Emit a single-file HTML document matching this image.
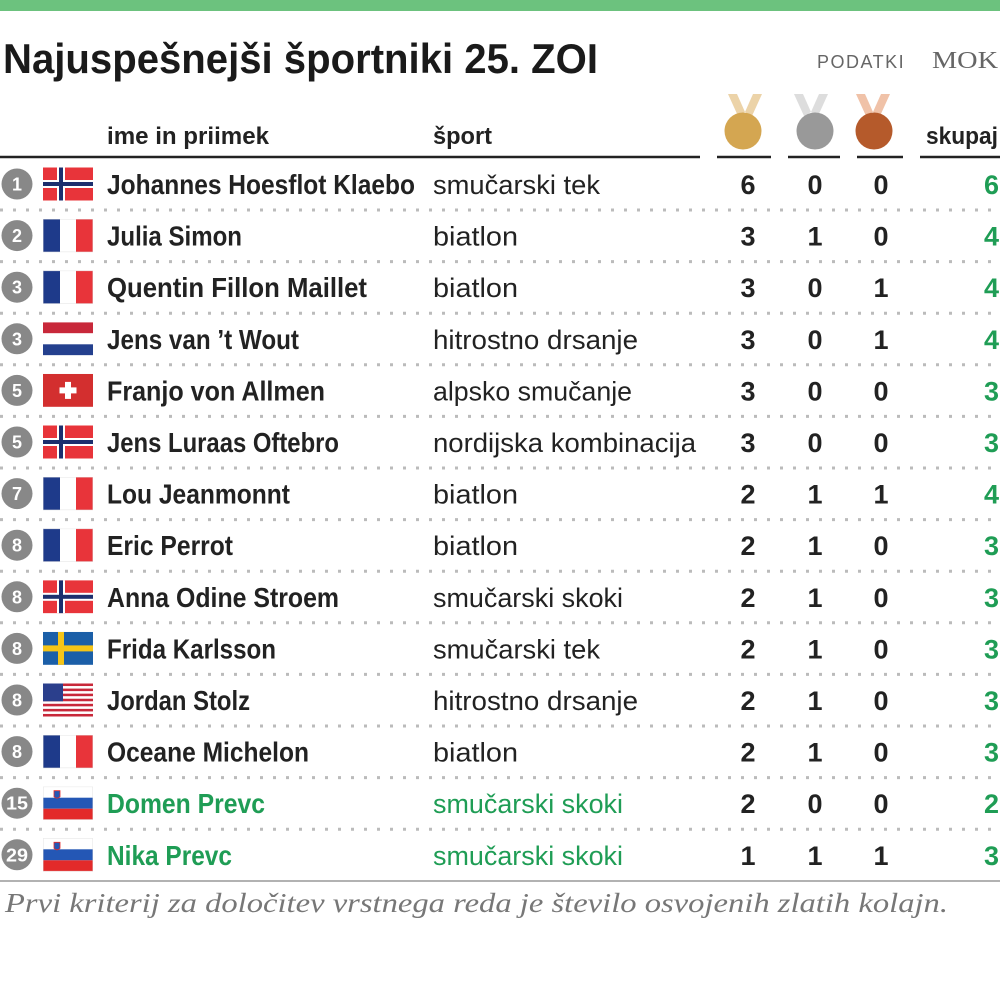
<!DOCTYPE html>
<html><head><meta charset="utf-8"><style>
html,body{margin:0;padding:0;background:#fff;}
svg{display:block}
.n{font-family:"Liberation Sans",sans-serif;font-weight:bold;font-size:28px;fill:#222}
.s{font-family:"Liberation Sans",sans-serif;font-size:27px;fill:#222}
.g{fill:#1f9d55}
.num{font-family:"Liberation Sans",sans-serif;font-weight:bold;font-size:27px;fill:#222;text-anchor:middle}
.tot{font-family:"Liberation Sans",sans-serif;font-weight:bold;font-size:27px;fill:#1f9d55;text-anchor:end}
.rk{font-family:"Liberation Sans",sans-serif;font-weight:bold;font-size:18px;fill:#fff;text-anchor:middle}
.h{font-family:"Liberation Sans",sans-serif;font-weight:bold;font-size:24px;fill:#222}
</style></head><body>
<svg width="1000" height="983" viewBox="0 0 1000 983" xmlns="http://www.w3.org/2000/svg">
<defs>
<symbol id="no" viewBox="0 0 50 33"><rect width="50" height="33" fill="#e8343a"/><rect x="14" width="8" height="33" fill="#fff"/><rect y="12.5" width="50" height="8" fill="#fff"/><rect x="16" width="4" height="33" fill="#1d2f6e"/><rect y="14.5" width="50" height="4" fill="#1d2f6e"/></symbol>
<symbol id="fr" viewBox="0 0 50 33"><rect width="17" height="33" fill="#1e3a8a"/><rect x="17" width="16" height="33" fill="#fff"/><rect x="33" width="17" height="33" fill="#e8343a"/><rect width="50" height="33" fill="none" stroke="#ddd" stroke-width="0.8"/></symbol>
<symbol id="nl" viewBox="0 0 50 33"><rect width="50" height="11" fill="#c8283a"/><rect y="11" width="50" height="11" fill="#fff"/><rect y="22" width="50" height="11" fill="#24408e"/></symbol>
<symbol id="ch" viewBox="0 0 50 33"><rect width="50" height="33" fill="#d32f2f"/><rect x="22" y="8" width="6" height="17" fill="#fff"/><rect x="16.5" y="13.5" width="17" height="6" fill="#fff"/></symbol>
<symbol id="se" viewBox="0 0 50 33"><rect width="50" height="33" fill="#1b5fa8"/><rect x="15" width="6" height="33" fill="#f5c518"/><rect y="13.5" width="50" height="6" fill="#f5c518"/></symbol>
<symbol id="us" viewBox="0 0 50 33"><rect width="50" height="33" fill="#fff"/><g fill="#c8283a"><rect y="0" width="50" height="2.54"/><rect y="5.08" width="50" height="2.54"/><rect y="10.15" width="50" height="2.54"/><rect y="15.23" width="50" height="2.54"/><rect y="20.3" width="50" height="2.54"/><rect y="25.38" width="50" height="2.54"/><rect y="30.46" width="50" height="2.54"/></g><rect width="20" height="17.8" fill="#2b3f8c"/></symbol>
<symbol id="si" viewBox="0 0 50 33"><rect width="50" height="11" fill="#fff"/><rect y="11" width="50" height="11" fill="#2457b5"/><rect y="22" width="50" height="11" fill="#e32a2a"/><path d="M11 4h6v6q-3 3-6 0z" fill="#2457b5" stroke="#e32a2a" stroke-width="0.8"/><rect width="50" height="33" fill="none" stroke="#ddd" stroke-width="0.8"/></symbol>
</defs>
<rect x="0" y="0" width="1000" height="11" fill="#6cc27e"/>
<text x="3" y="73" font-family="Liberation Sans, sans-serif" font-weight="bold" font-size="42" fill="#1a1a1a" textLength="595" lengthAdjust="spacingAndGlyphs">Najuspešnejši športniki 25. ZOI</text>
<text x="817" y="68" font-family="Liberation Sans, sans-serif" font-size="18" fill="#666" letter-spacing="1.5">PODATKI</text>
<text x="932" y="68" font-family="Liberation Serif, serif" font-size="24" fill="#666" textLength="66" lengthAdjust="spacingAndGlyphs">MOK</text>
<text x="107" y="144" class="h" textLength="162" lengthAdjust="spacingAndGlyphs">ime in priimek</text>
<text x="433" y="144" class="h" textLength="59" lengthAdjust="spacingAndGlyphs">šport</text>
<text x="926" y="144" class="h" textLength="72" lengthAdjust="spacingAndGlyphs">skupaj</text>
<!-- medals -->
<g><path d="M728 94h9l8 18-7 4z" fill="#ecd3a8"/><path d="M762 94h-9l-8 18 7 4z" fill="#ecd3a8"/><circle cx="743" cy="131" r="18.5" fill="#d4a651"/></g>
<g><path d="M794 94h9l8 18-7 4z" fill="#ddd"/><path d="M828 94h-9l-8 18 7 4z" fill="#ddd"/><circle cx="815" cy="131" r="18.5" fill="#999"/></g>
<g><path d="M856 94h9l8 18-7 4z" fill="#f0c2a8"/><path d="M890 94h-9l-8 18 7 4z" fill="#f0c2a8"/><circle cx="874" cy="131" r="18.5" fill="#b55a2b"/></g>
<g stroke="#222" stroke-width="2.5"><line x1="0" y1="157" x2="700" y2="157"/><line x1="717" y1="157" x2="771" y2="157"/><line x1="788" y1="157" x2="840" y2="157"/><line x1="857" y1="157" x2="903" y2="157"/><line x1="920" y1="157" x2="1000" y2="157"/></g>
<!-- separators -->
<g stroke="#bbb" stroke-width="3" stroke-dasharray="3 10">
<line x1="0" y1="210" x2="1000" y2="210"/><line x1="0" y1="261.6" x2="1000" y2="261.6"/><line x1="0" y1="313.2" x2="1000" y2="313.2"/><line x1="0" y1="364.8" x2="1000" y2="364.8"/><line x1="0" y1="416.4" x2="1000" y2="416.4"/><line x1="0" y1="468" x2="1000" y2="468"/><line x1="0" y1="519.6" x2="1000" y2="519.6"/><line x1="0" y1="571.2" x2="1000" y2="571.2"/><line x1="0" y1="622.8" x2="1000" y2="622.8"/><line x1="0" y1="674.4" x2="1000" y2="674.4"/><line x1="0" y1="726" x2="1000" y2="726"/><line x1="0" y1="777.6" x2="1000" y2="777.6"/><line x1="0" y1="829.2" x2="1000" y2="829.2"/>
</g>
<line x1="0" y1="881" x2="1000" y2="881" stroke="#999" stroke-width="1.5"/>
<!-- rank circles -->
<g fill="#888">
<circle cx="17" cy="184" r="15.5"/><circle cx="17" cy="235.6" r="15.5"/><circle cx="17" cy="287.2" r="15.5"/><circle cx="17" cy="338.8" r="15.5"/><circle cx="17" cy="390.4" r="15.5"/><circle cx="17" cy="442" r="15.5"/><circle cx="17" cy="493.6" r="15.5"/><circle cx="17" cy="545.2" r="15.5"/><circle cx="17" cy="596.8" r="15.5"/><circle cx="17" cy="648.4" r="15.5"/><circle cx="17" cy="700" r="15.5"/><circle cx="17" cy="751.6" r="15.5"/><circle cx="17" cy="803.2" r="15.5"/><circle cx="17" cy="854.8" r="15.5"/>
</g>
<text class="rk" x="17" y="190.5">1</text><text class="rk" x="17" y="242.1">2</text><text class="rk" x="17" y="293.7">3</text><text class="rk" x="17" y="345.3">3</text><text class="rk" x="17" y="396.9">5</text><text class="rk" x="17" y="448.5">5</text><text class="rk" x="17" y="500.1">7</text><text class="rk" x="17" y="551.7">8</text><text class="rk" x="17" y="603.3">8</text><text class="rk" x="17" y="654.9">8</text><text class="rk" x="17" y="706.5">8</text><text class="rk" x="17" y="758.1">8</text><text class="rk" x="17" y="809.7" textLength="22" lengthAdjust="spacingAndGlyphs">15</text><text class="rk" x="17" y="861.3" textLength="22" lengthAdjust="spacingAndGlyphs">29</text>
<!-- flags -->
<use href="#no" x="43" y="167.5" width="50" height="33"/>
<use href="#fr" x="43" y="219.1" width="50" height="33"/>
<use href="#fr" x="43" y="270.7" width="50" height="33"/>
<use href="#nl" x="43" y="322.3" width="50" height="33"/>
<use href="#ch" x="43" y="373.9" width="50" height="33"/>
<use href="#no" x="43" y="425.5" width="50" height="33"/>
<use href="#fr" x="43" y="477.1" width="50" height="33"/>
<use href="#fr" x="43" y="528.7" width="50" height="33"/>
<use href="#no" x="43" y="580.3" width="50" height="33"/>
<use href="#se" x="43" y="631.9" width="50" height="33"/>
<use href="#us" x="43" y="683.5" width="50" height="33"/>
<use href="#fr" x="43" y="735.1" width="50" height="33"/>
<use href="#si" x="43" y="786.7" width="50" height="33"/>
<use href="#si" x="43" y="838.3" width="50" height="33"/>
<!-- names -->
<text class="n" x="107" y="194" textLength="308" lengthAdjust="spacingAndGlyphs">Johannes Hoesflot Klaebo</text>
<text class="n" x="107" y="245.6" textLength="135" lengthAdjust="spacingAndGlyphs">Julia Simon</text>
<text class="n" x="107" y="297.2" textLength="260" lengthAdjust="spacingAndGlyphs">Quentin Fillon Maillet</text>
<text class="n" x="107" y="348.8" textLength="192" lengthAdjust="spacingAndGlyphs">Jens van ’t Wout</text>
<text class="n" x="107" y="400.4" textLength="218" lengthAdjust="spacingAndGlyphs">Franjo von Allmen</text>
<text class="n" x="107" y="452" textLength="232" lengthAdjust="spacingAndGlyphs">Jens Luraas Oftebro</text>
<text class="n" x="107" y="503.6" textLength="183" lengthAdjust="spacingAndGlyphs">Lou Jeanmonnt</text>
<text class="n" x="107" y="555.2" textLength="126" lengthAdjust="spacingAndGlyphs">Eric Perrot</text>
<text class="n" x="107" y="606.8" textLength="232" lengthAdjust="spacingAndGlyphs">Anna Odine Stroem</text>
<text class="n" x="107" y="658.4" textLength="169" lengthAdjust="spacingAndGlyphs">Frida Karlsson</text>
<text class="n" x="107" y="710" textLength="143" lengthAdjust="spacingAndGlyphs">Jordan Stolz</text>
<text class="n" x="107" y="761.6" textLength="202" lengthAdjust="spacingAndGlyphs">Oceane Michelon</text>
<text class="n g" x="107" y="813.2" textLength="158" lengthAdjust="spacingAndGlyphs">Domen Prevc</text>
<text class="n g" x="107" y="864.8" textLength="125" lengthAdjust="spacingAndGlyphs">Nika Prevc</text>
<!-- sports -->
<text class="s" x="433" y="194" textLength="167" lengthAdjust="spacingAndGlyphs">smučarski tek</text>
<text class="s" x="433" y="245.6" textLength="85" lengthAdjust="spacingAndGlyphs">biatlon</text>
<text class="s" x="433" y="297.2" textLength="85" lengthAdjust="spacingAndGlyphs">biatlon</text>
<text class="s" x="433" y="348.8" textLength="205" lengthAdjust="spacingAndGlyphs">hitrostno drsanje</text>
<text class="s" x="433" y="400.4" textLength="199" lengthAdjust="spacingAndGlyphs">alpsko smučanje</text>
<text class="s" x="433" y="452" textLength="263" lengthAdjust="spacingAndGlyphs">nordijska kombinacija</text>
<text class="s" x="433" y="503.6" textLength="85" lengthAdjust="spacingAndGlyphs">biatlon</text>
<text class="s" x="433" y="555.2" textLength="85" lengthAdjust="spacingAndGlyphs">biatlon</text>
<text class="s" x="433" y="606.8" textLength="190" lengthAdjust="spacingAndGlyphs">smučarski skoki</text>
<text class="s" x="433" y="658.4" textLength="167" lengthAdjust="spacingAndGlyphs">smučarski tek</text>
<text class="s" x="433" y="710" textLength="205" lengthAdjust="spacingAndGlyphs">hitrostno drsanje</text>
<text class="s" x="433" y="761.6" textLength="85" lengthAdjust="spacingAndGlyphs">biatlon</text>
<text class="s g" x="433" y="813.2" textLength="190" lengthAdjust="spacingAndGlyphs">smučarski skoki</text>
<text class="s g" x="433" y="864.8" textLength="190" lengthAdjust="spacingAndGlyphs">smučarski skoki</text>
<!-- medals numbers -->
<text class="num" x="748" y="194">6</text><text class="num" x="748" y="245.6">3</text><text class="num" x="748" y="297.2">3</text><text class="num" x="748" y="348.8">3</text><text class="num" x="748" y="400.4">3</text><text class="num" x="748" y="452">3</text><text class="num" x="748" y="503.6">2</text><text class="num" x="748" y="555.2">2</text><text class="num" x="748" y="606.8">2</text><text class="num" x="748" y="658.4">2</text><text class="num" x="748" y="710">2</text><text class="num" x="748" y="761.6">2</text><text class="num" x="748" y="813.2">2</text><text class="num" x="748" y="864.8">1</text>
<text class="num" x="815" y="194">0</text><text class="num" x="815" y="245.6">1</text><text class="num" x="815" y="297.2">0</text><text class="num" x="815" y="348.8">0</text><text class="num" x="815" y="400.4">0</text><text class="num" x="815" y="452">0</text><text class="num" x="815" y="503.6">1</text><text class="num" x="815" y="555.2">1</text><text class="num" x="815" y="606.8">1</text><text class="num" x="815" y="658.4">1</text><text class="num" x="815" y="710">1</text><text class="num" x="815" y="761.6">1</text><text class="num" x="815" y="813.2">0</text><text class="num" x="815" y="864.8">1</text>
<text class="num" x="881" y="194">0</text><text class="num" x="881" y="245.6">0</text><text class="num" x="881" y="297.2">1</text><text class="num" x="881" y="348.8">1</text><text class="num" x="881" y="400.4">0</text><text class="num" x="881" y="452">0</text><text class="num" x="881" y="503.6">1</text><text class="num" x="881" y="555.2">0</text><text class="num" x="881" y="606.8">0</text><text class="num" x="881" y="658.4">0</text><text class="num" x="881" y="710">0</text><text class="num" x="881" y="761.6">0</text><text class="num" x="881" y="813.2">0</text><text class="num" x="881" y="864.8">1</text>
<text class="tot" x="999" y="194">6</text><text class="tot" x="999" y="245.6">4</text><text class="tot" x="999" y="297.2">4</text><text class="tot" x="999" y="348.8">4</text><text class="tot" x="999" y="400.4">3</text><text class="tot" x="999" y="452">3</text><text class="tot" x="999" y="503.6">4</text><text class="tot" x="999" y="555.2">3</text><text class="tot" x="999" y="606.8">3</text><text class="tot" x="999" y="658.4">3</text><text class="tot" x="999" y="710">3</text><text class="tot" x="999" y="761.6">3</text><text class="tot" x="999" y="813.2">2</text><text class="tot" x="999" y="864.8">3</text>
<text x="5" y="912" font-family="Liberation Serif, serif" font-style="italic" font-size="27" fill="#777" textLength="943" lengthAdjust="spacingAndGlyphs">Prvi kriterij za določitev vrstnega reda je število osvojenih zlatih kolajn.</text>
</svg>
</body></html>
